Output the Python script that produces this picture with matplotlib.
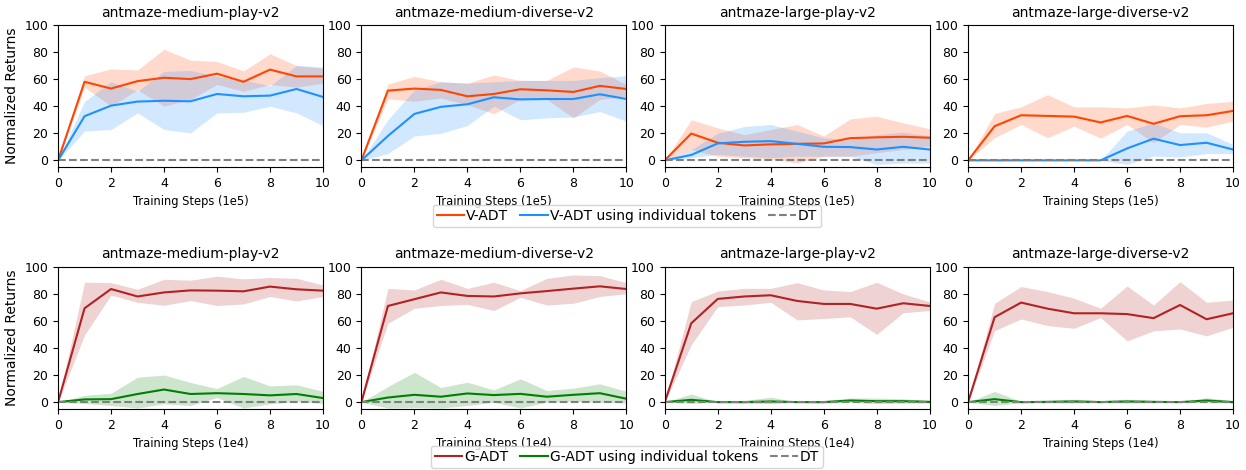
import numpy as np
import matplotlib
matplotlib.use('Agg')
import matplotlib.pyplot as plt

envs = ['antmaze-medium-play-v2', 'antmaze-medium-diverse-v2',
        'antmaze-large-play-v2', 'antmaze-large-diverse-v2']
steps = np.arange(11)

# ---- top row: V-ADT (1e5 steps) ----
vadt_mean = [
    [0, 58, 53, 58.5, 61, 60, 64, 58, 67, 62, 62],
    [0, 51.5, 53, 52, 47.3, 49, 52.5, 51.7, 50.5, 55, 52.7],
    [0, 19.8, 13, 11, 11.8, 12.2, 12.5, 16.4, 17, 17.4, 16.7],
    [0, 25.2, 33.3, 32.8, 32.3, 28, 32.8, 27, 32.6, 33.3, 36.5],
]
vadt_hi = [
    [0, 62.5, 67.6, 66.7, 82, 74, 73, 66, 78.7, 70, 68],
    [0, 56.4, 62, 58, 57, 63, 59, 59, 69, 66, 56],
    [0, 30, 24, 19, 22.8, 26.5, 18, 30.6, 32.6, 27.7, 23.3],
    [0, 34.6, 39.5, 48.5, 39.5, 39.5, 38.7, 41, 38.7, 42, 43.6],
]
vadt_lo = [
    [0, 54, 40, 52, 40, 45, 56, 51, 56, 54, 57],
    [0, 45.6, 43.6, 46, 41, 34.5, 45, 45, 31.4, 45, 47],
    [0, 8, 3, 2, 1, -2, 3, 3, 5.6, 8, 10.5],
    [0, 16.7, 26.5, 16.7, 25.2, 16.4, 26.5, 13, 26.5, 24.5, 29],
]
vtok_mean = [
    [0, 32.6, 40.4, 43.4, 44, 43.6, 49, 47.3, 47.8, 52.7, 46.8],
    [0, 18, 34.3, 39.5, 41.4, 46.6, 45, 45.3, 45.3, 48.8, 45.3],
    [0, 4, 12.5, 13.7, 14.2, 12.2, 10, 9.8, 8, 10, 8],
    [0, 0, 0, 0, 0, 0, 8.8, 16, 11.3, 13, 8],
]
vtok_hi = [
    [0, 43.6, 58, 51, 65.7, 66.4, 62, 59.5, 55, 70, 69],
    [0, 30, 52, 58, 57, 58, 59, 59, 59, 61, 62.5],
    [0, 8, 20, 25, 26.5, 21.6, 16.7, 15.4, 19, 20.8, 18],
    [0, 0, 0, 0, 0, 0, 21.6, 27.7, 20.3, 20.3, 11.8],
]
vtok_lo = [
    [0, 21.6, 22.8, 35, 22.8, 20.3, 35, 35.5, 40, 35, 25.7],
    [0, 5, 18, 20, 25.7, 40, 30, 31.4, 32, 36, 29],
    [0, 2, 4.4, 3, 2, 3, 3, 3, -3, -2, -2],
    [0, 0, 0, 0, 0, 0, -3, 3.2, 2.5, 5, 5],
]

# ---- bottom row: G-ADT (1e4 steps) ----
gadt_mean = [
    [0, 69.3, 83.5, 78, 81, 82.5, 82.3, 81.8, 85.3, 83.3, 82.3],
    [0, 71, 76, 81, 78.4, 78, 80.3, 82, 83.8, 85.5, 83.5],
    [0, 58.2, 76.2, 78, 78.9, 74.7, 72.5, 72.5, 69, 73, 71],
    [0, 62.7, 73.5, 69, 65.6, 65.6, 65, 62, 71.7, 61.2, 65.6],
]
gadt_hi = [
    [0, 88.5, 88.2, 83.3, 90.7, 90, 93, 91, 92, 91.4, 86.5],
    [0, 84, 82.8, 90.7, 84, 88.5, 82.3, 91.4, 93.9, 93.4, 88.2],
    [0, 74.2, 82, 84, 84, 88.2, 82.8, 81.6, 88.5, 79.9, 74],
    [0, 73, 85.3, 81.6, 76.7, 69.3, 85.7, 71.7, 89, 73.7, 75.4],
]
gadt_lo = [
    [0, 49.6, 79, 73.7, 71.5, 75, 71.3, 72.5, 78, 74.7, 78],
    [0, 58.2, 69.3, 71.3, 72.2, 67.6, 77.4, 71.7, 73, 78, 80],
    [0, 42.3, 70.5, 71.7, 73.7, 60.7, 61.7, 63, 50, 66, 67.6],
    [0, 52.8, 61.4, 56.5, 54.5, 62.4, 45.2, 52.6, 54, 48.9, 55.3],
]
gtok_mean = [
    [0, 2, 2.2, 6, 9.3, 6, 6.6, 6, 5, 6, 3],
    [0, 3.4, 5.4, 4, 6.4, 5.2, 6.1, 4, 5.4, 6.6, 2.5],
    [0, 1.7, 0, 0, 0.5, 0, 0, 1.2, 0.7, 0.7, 0.2],
    [0, 2.2, 0, 0.2, 0.5, 0, 0.5, 0.2, 0, 1.2, 0],
]
gtok_hi = [
    [0, 5, 6.6, 18.4, 20, 14.5, 10, 19, 12, 12.8, 8],
    [0, 11.5, 22, 10.8, 14.7, 9, 17.2, 8.6, 10.3, 13.5, 8],
    [0, 6, 0, 1.2, 3.7, 0, 1.2, 3, 3, 2.5, 1.2],
    [0, 7.9, 0.5, 1.2, 2.2, 1.2, 2.2, 1.2, 0, 3.2, 1.2],
]
gtok_lo = [
    [0, -1, -2.5, -4.4, -1.2, -2.5, 3.4, -4.4, -1.2, 0.5, -1],
    [0, -4.4, -4, -4.4, -2.5, 0, -4.4, 0, 0.5, 0, -0.7],
    [0, -1, 0, -0.7, -1.2, 0, -0.7, -0.2, -1.2, -0.7, -0.7],
    [0, -2.5, -0.5, -0.5, -0.7, -0.2, -0.7, -0.5, 0, -0.5, -0.5],
]

fig, axes = plt.subplots(2, 4, figsize=(12.46, 4.7), dpi=100)
plt.subplots_adjust(left=0.0466, right=0.9896, top=0.947, bottom=0.130,
                    wspace=0.145, hspace=0.70)

rows = [
    ('Training Steps (1e5)',
     [('V-ADT', 'orangered', vadt_mean, vadt_lo, vadt_hi),
      ('V-ADT using individual tokens', 'dodgerblue', vtok_mean, vtok_lo, vtok_hi)]),
    ('Training Steps (1e4)',
     [('G-ADT', 'firebrick', gadt_mean, gadt_lo, gadt_hi),
      ('G-ADT using individual tokens', 'green', gtok_mean, gtok_lo, gtok_hi)]),
]

for r, (xlab, series) in enumerate(rows):
    for c in range(4):
        ax = axes[r, c]
        for name, col, m, lo, hi in series:
            ax.fill_between(steps, lo[c], hi[c], color=col, alpha=0.2, linewidth=0)
            ax.plot(steps, m[c], color=col, linewidth=1.5, label=name)
        ax.axhline(0, color='gray', linestyle='--', linewidth=1.5, label='DT')
        ax.set_xlim(0, 10)
        ax.set_ylim(-5, 100)
        ax.set_xticks([0, 2, 4, 6, 8, 10])
        ax.set_yticks([0, 20, 40, 60, 80, 100])
        ax.tick_params(labelsize=9)
        ax.set_title(envs[c], fontsize=10)
        ax.set_xlabel(xlab, fontsize=8.3)
        if c == 0:
            ax.set_ylabel('Normalized Returns', fontsize=10)
    h, l = axes[r, 0].get_legend_handles_labels()
    ypos = 0.540 if r == 0 else 0.028
    fig.legend(h, l, loc='center', bbox_to_anchor=(0.503, ypos), ncol=3,
               fontsize=10, handletextpad=0.1, columnspacing=0.9,
               borderpad=0.3, handlelength=2.0)

plt.savefig('out.png', dpi=100)
